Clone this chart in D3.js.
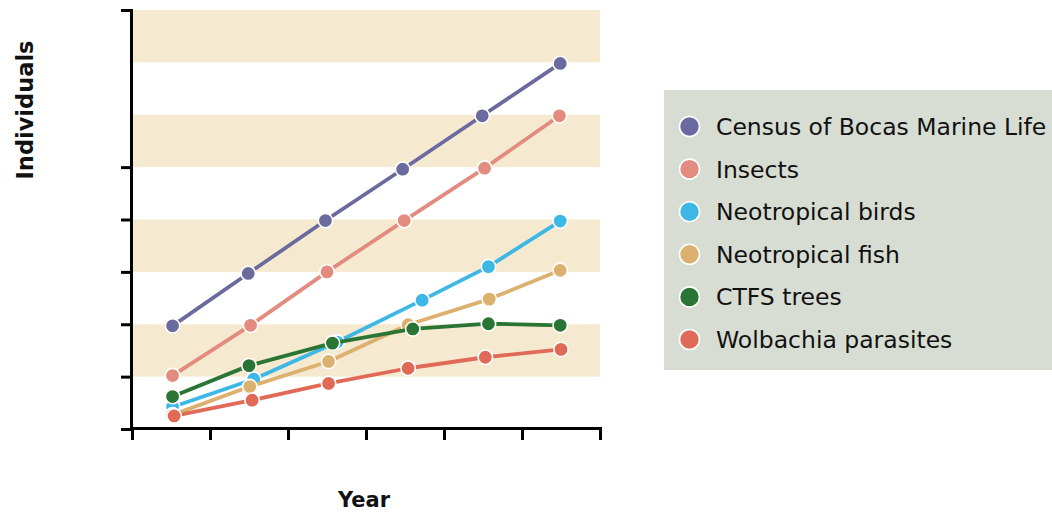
<!DOCTYPE html>
<html>
<head>
<meta charset="utf-8">
<script src="https://cdn.jsdelivr.net/npm/d3@7"></script>
<style>
  html, body { margin: 0; padding: 0; background: #ffffff; }
  svg { display: block; }
</style>
</head>
<body>
<svg id="chart" width="1052" height="514"></svg>
<script>
// ---- Data ----
const seriesNames = ["Census of Bocas Marine Life", "Insects", "Neotropical birds", "Neotropical fish", "CTFS trees", "Wolbachia parasites"];
const seriesColors = ["#6b6a9e", "#e38b7f", "#3db7e5", "#dcb06f", "#2a7533", "#e06a57"];

// x positions in year-slot units (axis runs 0..6)
const censusX   = [0.52, 1.49, 2.48, 3.47, 4.49, 5.49];
const insectsX  = [0.52, 1.52, 2.50, 3.49, 4.52, 5.48];
const birdsX    = [0.52, 1.56, 2.63, 3.72, 4.57, 5.49];
const fishX     = [0.52, 1.51, 2.52, 3.54, 4.58, 5.49];
const treesX    = [0.52, 1.50, 2.57, 3.60, 4.57, 5.49];
const wolbachiaX= [0.54, 1.54, 2.52, 3.54, 4.53, 5.50];

const censusY    = [1.97, 2.97, 3.98, 4.96, 5.98, 6.98];
const insectsY   = [1.02, 1.98, 3.00, 3.98, 4.98, 5.98];
const birdsY     = [0.42, 0.95, 1.66, 2.46, 3.10, 3.97];
const fishY      = [0.27, 0.81, 1.29, 1.99, 2.48, 3.03];
const treesY     = [0.62, 1.21, 1.64, 1.91, 2.01, 1.98];
const wolbachiaY = [0.25, 0.55, 0.87, 1.16, 1.37, 1.52];

const xTickValues = [0, 1, 2, 3, 4, 5, 6];
const yTickValues = [1, 2, 3, 4, 5];
const bandStarts  = [1, 3, 5, 7];

const xTitle = "Year";
const yTitle = "Individuals";

const seriesX = [censusX, insectsX, birdsX, fishX, treesX, wolbachiaX];
const seriesY = [censusY, insectsY, birdsY, fishY, treesY, wolbachiaY];

// ---- Layout ----
const svg = d3.select("#chart");
const mLeft = 132, mRight = 600, mTop = 10, mBottom = 429;

const x = d3.scaleLinear().domain([0, 6]).range([mLeft, mRight]);
const y = d3.scaleLinear().domain([0, 8]).range([mBottom, mTop]);

// background bands
svg.append("g").selectAll("rect").data(bandStarts).join("rect")
  .attr("x", x(0))
  .attr("y", d => y(d + 1))
  .attr("width", x(6) - x(0))
  .attr("height", d => y(d) - y(d + 1))
  .attr("fill", "#f5ead0");

// x axis
const xAxis = svg.append("g")
  .attr("transform", `translate(0,${mBottom - 1})`)
  .call(d3.axisBottom(x).tickValues(xTickValues).tickSize(12).tickSizeOuter(12).tickFormat(""));
xAxis.select(".domain").attr("stroke", "#000").attr("stroke-width", 3);
xAxis.selectAll(".tick line").attr("stroke", "#000").attr("stroke-width", 3);

// y axis
const yAxis = svg.append("g")
  .attr("transform", `translate(${mLeft - 1},0)`)
  .call(d3.axisLeft(y).tickValues(yTickValues).tickSize(10).tickSizeOuter(10).tickFormat(""));
yAxis.select(".domain").attr("stroke", "#000").attr("stroke-width", 3);
yAxis.selectAll(".tick line").attr("stroke", "#000").attr("stroke-width", 3);

// lines & points
const line = d3.line().x(d => x(d[0])).y(d => y(d[1]));
seriesNames.forEach((name, i) => {
  const pts = seriesX[i].map((xv, j) => [xv, seriesY[i][j]]);
  const g = svg.append("g");
  g.append("path")
    .attr("d", line(pts))
    .attr("fill", "none")
    .attr("stroke", seriesColors[i])
    .attr("stroke-width", 3.8)
    .attr("stroke-linejoin", "round");
  g.selectAll("circle").data(pts).join("circle")
    .attr("cx", d => x(d[0]))
    .attr("cy", d => y(d[1]))
    .attr("r", 7.2)
    .attr("fill", seriesColors[i])
    .attr("stroke", "#ffffff")
    .attr("stroke-width", 1.6);
});

// axis titles
const fontFam = "'DejaVu Sans', Verdana, sans-serif";
svg.append("text")
  .attr("x", (mLeft + mRight) / 2 - 2)
  .attr("y", 507)
  .attr("text-anchor", "middle")
  .attr("font-family", fontFam)
  .attr("font-weight", "bold")
  .attr("font-size", 21)
  .attr("fill", "#111")
  .text(xTitle);

svg.append("text")
  .attr("transform", "translate(33,110) rotate(-90)")
  .attr("text-anchor", "middle")
  .attr("font-family", fontFam)
  .attr("font-weight", "bold")
  .attr("font-size", 22.5)
  .attr("fill", "#111")
  .text(yTitle);

// legend
const legend = svg.append("g");
legend.append("rect")
  .attr("x", 664).attr("y", 90)
  .attr("width", 1052 - 664).attr("height", 280)
  .attr("fill", "#d8ddd4");
const rowY = d3.scaleLinear().domain([0, 5]).range([126.5, 339.5]);
const items = legend.selectAll("g.item").data(seriesNames).join("g").attr("class", "item");
items.append("circle")
  .attr("cx", 689.5)
  .attr("cy", (d, i) => rowY(i))
  .attr("r", 10)
  .attr("fill", (d, i) => seriesColors[i])
  .attr("stroke", "#ffffff")
  .attr("stroke-width", 1.6);
items.append("text")
  .attr("x", 716)
  .attr("y", (d, i) => rowY(i) + 8.5)
  .attr("font-family", fontFam)
  .attr("font-size", 23.5)
  .attr("fill", "#111")
  .text(d => d);
</script>
</body>
</html>
